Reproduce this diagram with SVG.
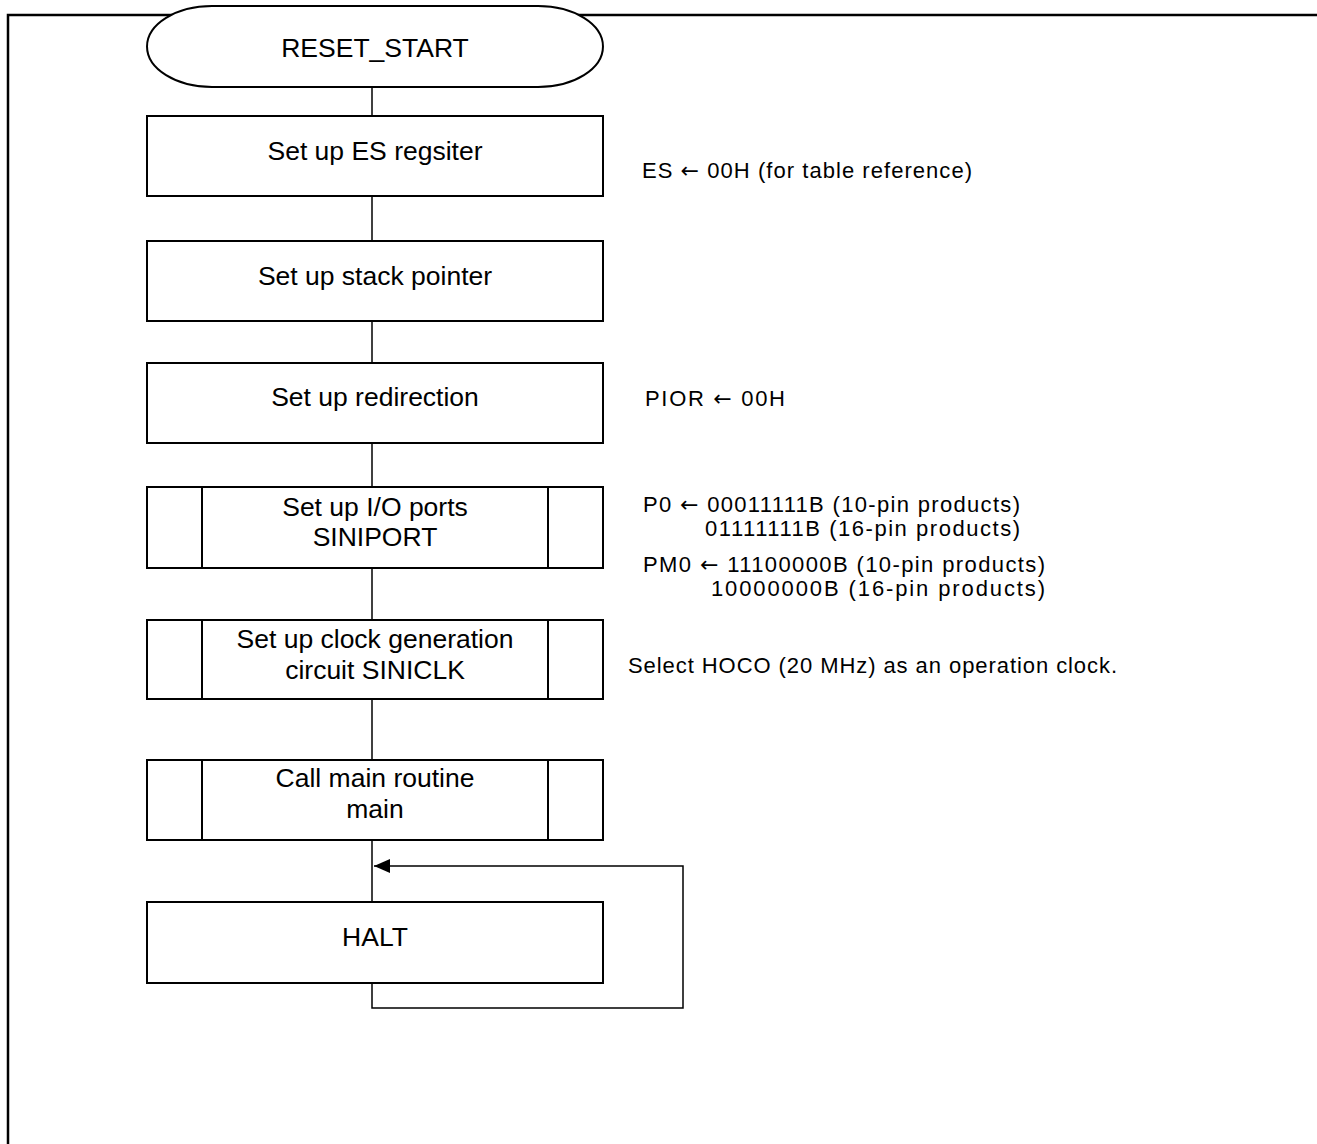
<svg xmlns="http://www.w3.org/2000/svg" width="1317" height="1144" viewBox="0 0 1317 1144">
<defs>
<style>
.box{fill:#fff;stroke:#000;stroke-width:2}
.sub{fill:none;stroke:#000;stroke-width:2}
.lbl{font-family:"Liberation Sans",Arial,sans-serif;font-size:26.5px;fill:#000;text-anchor:middle}
.note{font-family:"Liberation Sans",Arial,sans-serif;font-size:22px;fill:#000}
.ar{font-family:"DejaVu Sans",sans-serif;font-size:22px}
.con{fill:none;stroke:#000;stroke-width:1.5}
</style>
<marker id="arr" markerWidth="16" markerHeight="14" refX="16" refY="7" orient="auto" markerUnits="userSpaceOnUse">
<path d="M0,0 L16,7 L0,14 Z" fill="#000"/>
</marker>
</defs>
<rect width="1317" height="1144" fill="#fff"/>
<g id="frame">
<path d="M8,1144 V15 H1317" fill="none" stroke="#000" stroke-width="2.5"/>
</g>
<g id="connectors">
<line class="con" x1="372" y1="87" x2="372" y2="116"/>
<line class="con" x1="372" y1="196" x2="372" y2="241"/>
<line class="con" x1="372" y1="321" x2="372" y2="363"/>
<line class="con" x1="372" y1="443" x2="372" y2="487"/>
<line class="con" x1="372" y1="568" x2="372" y2="620"/>
<line class="con" x1="372" y1="699" x2="372" y2="760"/>
<line class="con" x1="372" y1="840" x2="372" y2="902"/>
<path class="con" d="M372,983 V1008 H683 V866 H374" marker-end="url(#arr)"/>
</g>
<g id="n_start">
<path class="box" stroke-width="1.5" d="M212,6 H538 A65,40.5 0 0 1 538,87 H212 A65,40.5 0 0 1 212,6 Z"/>
<text class="lbl" x="375" y="57">RESET_START</text>
</g>
<g id="n_es">
<rect class="box" x="147" y="116" width="456" height="80"/>
<text class="lbl" x="375" y="160">Set up ES regsiter</text>
</g>
<g id="n_sp">
<rect class="box" x="147" y="241" width="456" height="80"/>
<text class="lbl" x="375" y="285">Set up stack pointer</text>
</g>
<g id="n_redir">
<rect class="box" x="147" y="363" width="456" height="80"/>
<text class="lbl" x="375" y="406">Set up redirection</text>
</g>
<g id="n_port">
<rect class="box" x="147" y="487" width="456" height="81"/>
<line class="sub" x1="202" y1="487" x2="202" y2="568"/>
<line class="sub" x1="548" y1="487" x2="548" y2="568"/>
<text class="lbl" x="375" y="516">Set up I/O ports</text>
<text class="lbl" x="375" y="546">SINIPORT</text>
</g>
<g id="n_clk">
<rect class="box" x="147" y="620" width="456" height="79"/>
<line class="sub" x1="202" y1="620" x2="202" y2="699"/>
<line class="sub" x1="548" y1="620" x2="548" y2="699"/>
<text class="lbl" x="375" y="648">Set up clock generation</text>
<text class="lbl" x="375" y="679">circuit SINICLK</text>
</g>
<g id="n_main">
<rect class="box" x="147" y="760" width="456" height="80"/>
<line class="sub" x1="202" y1="760" x2="202" y2="840"/>
<line class="sub" x1="548" y1="760" x2="548" y2="840"/>
<text class="lbl" x="375" y="787">Call main routine</text>
<text class="lbl" x="375" y="818">main</text>
</g>
<g id="n_halt">
<rect class="box" x="147" y="902" width="456" height="81"/>
<text class="lbl" x="375" y="946">HALT</text>
</g>
<g id="notes">
<text class="note" x="642" y="178" textLength="330" lengthAdjust="spacing">ES <tspan class="ar">←</tspan> 00H (for table reference)</text>
<text class="note" x="645" y="406" textLength="140" lengthAdjust="spacing">PIOR <tspan class="ar">←</tspan> 00H</text>
<text class="note" x="643" y="512" textLength="377" lengthAdjust="spacing">P0 <tspan class="ar">←</tspan> 00011111B (10-pin products)</text>
<text class="note" x="705" y="536" textLength="315" lengthAdjust="spacing">01111111B (16-pin products)</text>
<text class="note" x="643" y="572" textLength="402" lengthAdjust="spacing">PM0 <tspan class="ar">←</tspan> 11100000B (10-pin products)</text>
<text class="note" x="711" y="596" textLength="334" lengthAdjust="spacing">10000000B (16-pin products)</text>
<text class="note" x="628" y="673" textLength="489" lengthAdjust="spacing">Select HOCO (20 MHz) as an operation clock.</text>
</g>
</svg>
